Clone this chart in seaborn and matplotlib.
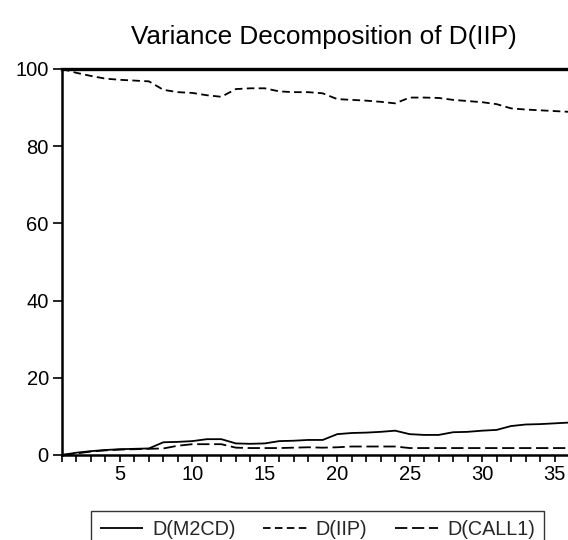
import numpy as np
import pandas as pd
import matplotlib
matplotlib.use("Agg")
import matplotlib.pyplot as plt
import seaborn as sns

# periods 1..36
periods = list(range(1, 37))

m2cd = [0.0, 0.6, 1.0, 1.3, 1.5, 1.6, 1.7, 3.3, 3.4, 3.6, 4.1, 4.1,
        3.0, 2.9, 3.0, 3.6, 3.7, 3.9, 3.9, 5.4, 5.7, 5.8, 6.0, 6.3,
        5.4, 5.2, 5.2, 5.9, 6.0, 6.3, 6.5, 7.5, 7.9, 8.0, 8.2, 8.4]

iip = [100.0, 99.0, 98.2, 97.5, 97.2, 97.0, 96.8, 94.6, 94.0, 93.8, 93.2, 92.8,
       94.8, 95.0, 95.0, 94.2, 94.0, 94.0, 93.7, 92.2, 92.0, 91.8, 91.5, 91.1,
       92.6, 92.6, 92.5, 92.0, 91.7, 91.4, 90.9, 89.8, 89.5, 89.3, 89.1, 88.9]

call1 = [0.0, 0.4, 0.9, 1.2, 1.4, 1.5, 1.6, 1.7, 2.4, 2.8, 2.8, 2.8,
         1.9, 1.8, 1.8, 1.8, 1.9, 2.0, 1.9, 2.0, 2.2, 2.2, 2.2, 2.2,
         1.8, 1.8, 1.8, 1.8, 1.8, 1.8, 1.8, 1.8, 1.8, 1.8, 1.8, 1.8]

series_names = ["D(M2CD)", "D(IIP)", "D(CALL1)"]
title_text = "Variance Decomposition of D(IIP)"

df = pd.DataFrame({"period": periods, "D(M2CD)": m2cd, "D(IIP)": iip, "D(CALL1)": call1})

sns.set_style("ticks")
plt.rcParams["font.family"] = ["Liberation Sans", "DejaVu Sans"]

fig = plt.figure(figsize=(5.68, 5.4), dpi=100)
ax = fig.add_axes([62 / 568, 85 / 540, 507 / 568, 386 / 540])

styles = {
    "D(M2CD)": (0, ()),
    "D(IIP)": (0, (4.2, 2.4)),
    "D(CALL1)": (0, (6.8, 2.6)),
}
for name in series_names:
    sns.lineplot(data=df, x="period", y=name, ax=ax, color="black",
                 linewidth=1.3, linestyle=styles[name], label=name, legend=False)

ax.set_xlim(1, 36)
ax.set_ylim(0, 100)
ax.set_xlabel("")
ax.set_ylabel("")
ax.set_yticks([0, 20, 40, 60, 80, 100])
ax.set_xticks([5, 10, 15, 20, 25, 30, 35])
ax.set_xticks(periods, minor=True)
ax.tick_params(axis="y", which="major", direction="out", length=6.5, width=1.2,
               labelsize=14.5, pad=3, color="black", labelcolor="black")
ax.tick_params(axis="x", which="both", direction="out", length=5, width=1.2,
               labelsize=14.5, pad=2, color="black", labelcolor="black")

for side in ["left", "bottom", "top"]:
    ax.spines[side].set_color("black")
ax.spines["left"].set_linewidth(1.8)
ax.spines["bottom"].set_linewidth(1.8)
ax.spines["top"].set_linewidth(2.4)
ax.spines["right"].set_visible(False)

fig.text(324 / 568, 1 - 37 / 540, title_text, ha="center", va="center",
         fontsize=18.8, color="black")

handles, labels = ax.get_legend_handles_labels()
leg = fig.legend(handles, labels, loc="upper left",
                 bbox_to_anchor=(91 / 568, 1 - 511 / 540), ncol=3,
                 fontsize=14.2, frameon=True, fancybox=False,
                 handlelength=2.2, handletextpad=0.45, columnspacing=1.4,
                 borderaxespad=0, borderpad=0.45)
leg.get_frame().set_edgecolor("black")
leg.get_frame().set_linewidth(1.0)

fig.savefig("out.png", dpi=100)
